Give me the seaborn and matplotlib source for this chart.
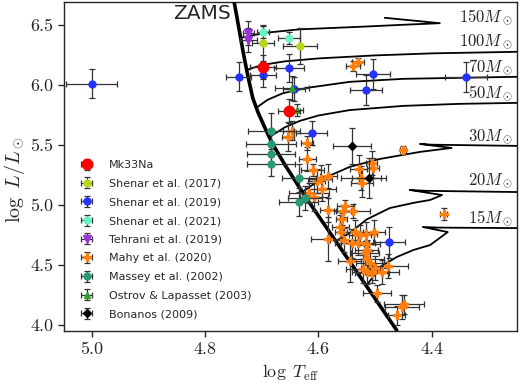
import matplotlib
matplotlib.use("Agg")
import matplotlib.pyplot as plt
import seaborn as sns

# ---------------- data ----------------
zams_T = [4.750, 4.744, 4.739, 4.732, 4.725, 4.716, 4.707, 4.696, 4.682, 4.659, 4.624, 4.462]
zams_L = [6.720, 6.567, 6.433, 6.250, 6.083, 5.892, 5.775, 5.658, 5.517, 5.333, 5.075, 3.958]

trk150_T = [4.738, 4.720, 4.690, 4.633, 4.527, 4.450, 4.386, 4.483]
trk150_L = [6.390, 6.410, 6.435, 6.462, 6.483, 6.500, 6.513, 6.558]
trk100_T = [4.726, 4.700, 4.660, 4.600, 4.500, 4.400, 4.250]
trk100_L = [6.125, 6.165, 6.195, 6.220, 6.245, 6.262, 6.275]
trk70_T = [4.710, 4.690, 4.663, 4.620, 4.545, 4.450, 4.250]
trk70_L = [5.808, 5.875, 5.930, 5.975, 6.025, 6.050, 6.067]
trk50_T = [4.686, 4.660, 4.633, 4.600, 4.545, 4.450, 4.350, 4.250]
trk50_L = [5.567, 5.645, 5.700, 5.745, 5.790, 5.825, 5.842, 5.850]
trk30_T = [4.629, 4.598, 4.545, 4.492, 4.421, 4.365, 4.421, 4.400, 4.250]
trk30_L = [5.108, 5.208, 5.317, 5.383, 5.442, 5.475, 5.508, 5.502, 5.492]
trk20_T = [4.565, 4.545, 4.515, 4.474, 4.430, 4.403, 4.382, 4.439, 4.410, 4.250]
trk20_L = [4.710, 4.767, 4.880, 4.975, 5.020, 5.042, 5.083, 5.125, 5.118, 5.108]
trk15_T = [4.515, 4.504, 4.492, 4.462, 4.433, 4.403, 4.372, 4.416, 4.390, 4.250]
trk15_L = [4.333, 4.400, 4.483, 4.567, 4.625, 4.667, 4.775, 4.817, 4.812, 4.808]

track_labels = ["150", "100", "70", "50", "30", "20", "15"]
track_label_L = [6.567, 6.358, 6.150, 5.933, 5.567, 5.200, 4.892]

mk33_T = [4.698, 4.652]
mk33_L = [6.150, 5.783]
mk33_Te = [0.023, 0.020]
mk33_Le = [0.10, 0.10]

sh17_T = [4.698, 4.633]
sh17_L = [6.350, 6.325]
sh17_Te = [0.020, 0.030]
sh17_Le = [0.15, 0.15]

sh19_T = [5.000, 4.741, 4.698, 4.652, 4.643, 4.612, 4.504, 4.516, 4.340, 4.476]
sh19_L = [6.010, 6.067, 6.083, 6.140, 5.967, 5.600, 6.092, 5.958, 6.067, 4.690]
sh19_Te = [0.045, 0.022, 0.023, 0.027, 0.020, 0.027, 0.030, 0.028, 0.037, 0.028]
sh19_Le = [0.12, 0.12, 0.10, 0.12, 0.10, 0.10, 0.125, 0.125, 0.125, 0.13]

sh21_T = [4.698, 4.652]
sh21_L = [6.440, 6.390]
sh21_Te = [0.010, 0.020]
sh21_Le = [0.05, 0.05]

teh_T = [4.724, 4.724]
teh_L = [6.430, 6.375]
teh_Te = [0.010, 0.015]
teh_Le = [0.10, 0.10]

mahy_T = [4.530, 4.539, 4.647, 4.654, 4.620, 4.620, 4.610, 4.603, 4.583, 4.596,
          4.594, 4.617, 4.608, 4.529, 4.525, 4.523, 4.506, 4.504, 4.451, 4.583,
          4.553, 4.557, 4.539, 4.559, 4.562, 4.560, 4.583, 4.555, 4.536, 4.527,
          4.516, 4.502, 4.541, 4.530, 4.516, 4.515, 4.518, 4.545, 4.515, 4.509,
          4.522, 4.515, 4.506, 4.500, 4.488, 4.477, 4.497, 4.453, 4.449, 4.462,
          4.379]
mahy_L = [6.192, 6.158, 5.617, 5.567, 5.517, 5.383, 5.292, 5.200, 5.242, 5.217,
          5.133, 5.100, 5.067, 5.300, 5.225, 5.183, 5.350, 5.308, 5.458, 4.958,
          4.992, 4.950, 4.950, 4.883, 4.817, 4.775, 4.717, 4.708, 4.775, 4.750,
          4.758, 4.775, 4.683, 4.683, 4.675, 4.625, 4.600, 4.533, 4.550, 4.517,
          4.467, 4.442, 4.433, 4.475, 4.442, 4.492, 4.267, 4.150, 4.175, 4.083,
          4.925]
mahy_Te = [0.010, 0.012, 0.015, 0.010, 0.010, 0.015, 0.020, 0.015, 0.015, 0.020,
           0.025, 0.035, 0.025, 0.015, 0.035, 0.020, 0.010, 0.010, 0.006, 0.015,
           0.015, 0.015, 0.030, 0.010, 0.015, 0.010, 0.030, 0.025, 0.020, 0.020,
           0.020, 0.020, 0.030, 0.030, 0.025, 0.020, 0.025, 0.020, 0.030, 0.025,
           0.030, 0.025, 0.030, 0.025, 0.030, 0.035, 0.025, 0.030, 0.035, 0.015,
           0.006]
mahy_Le = [0.03, 0.04, 0.08, 0.12, 0.06, 0.10, 0.05, 0.10, 0.10, 0.12,
           0.10, 0.08, 0.12, 0.12, 0.10, 0.12, 0.10, 0.08, 0.03, 0.10,
           0.05, 0.05, 0.06, 0.05, 0.10, 0.05, 0.18, 0.10, 0.10, 0.08,
           0.10, 0.10, 0.12, 0.10, 0.10, 0.08, 0.10, 0.17, 0.10, 0.10,
           0.12, 0.10, 0.08, 0.10, 0.10, 0.10, 0.07, 0.10, 0.08, 0.08,
           0.05]

mas_T = [4.684, 4.684, 4.684, 4.684, 4.635, 4.624, 4.635]
mas_L = [5.617, 5.508, 5.425, 5.342, 5.225, 5.058, 5.025]
mas_Te = [0.040, 0.044, 0.042, 0.042, 0.030, 0.030, 0.035]
mas_Le = [0.15, 0.10, 0.10, 0.10, 0.12, 0.10, 0.12]

ost_T = [4.647, 4.638]
ost_L = [5.975, 5.790]
ost_Te = [0.030, 0.010]
ost_Le = [0.10, 0.05]

bon_T = [4.541, 4.511]
bon_L = [5.492, 5.225]
bon_Te = [0.033, 0.030]
bon_Le = [0.15, 0.17]

# ---------------- plot ----------------
sns.set_style("ticks")
plt.rcParams["font.family"] = ["DejaVu Sans"]
plt.rcParams["mathtext.fontset"] = "cm"

fig = plt.figure(figsize=(5.2, 3.86), dpi=100)
ax = fig.add_axes([0.123, 0.142, 0.871, 0.853])

tracks = [(trk150_T, trk150_L), (trk100_T, trk100_L), (trk70_T, trk70_L),
          (trk50_T, trk50_L), (trk30_T, trk30_L), (trk20_T, trk20_L),
          (trk15_T, trk15_L)]
for tT, tL in tracks:
    sns.lineplot(x=tT, y=tL, sort=False, estimator=None, color="black",
                 lw=1.3, ax=ax, zorder=4)
sns.lineplot(x=zams_T, y=zams_L, sort=False, estimator=None, color="black",
             lw=2.6, ax=ax, zorder=4)

groups = [
    ("Mk33Na", mk33_T, mk33_L, mk33_Te, mk33_Le, "#ff0000", "o", 7.5),
    ("Shenar et al. (2017)", sh17_T, sh17_L, sh17_Te, sh17_Le, "#b8d51c", "o", 5),
    ("Shenar et al. (2019)", sh19_T, sh19_L, sh19_Te, sh19_Le, "#2433ff", "o", 5),
    ("Shenar et al. (2021)", sh21_T, sh21_L, sh21_Te, sh21_Le, "#66f5c4", "o", 5),
    ("Tehrani et al. (2019)", teh_T, teh_L, teh_Te, teh_Le, "#9a2fdc", "v", 5.5),
    ("Mahy et al. (2020)", mahy_T, mahy_L, mahy_Te, mahy_Le, "#ff7f0e", "P", 5.5),
    ("Massey et al. (2002)", mas_T, mas_L, mas_Te, mas_Le, "#2a9a74", "o", 5),
    ("Ostrov & Lapasset (2003)", ost_T, ost_L, ost_Te, ost_Le, "#2ca02c", "^", 5),
    ("Bonanos (2009)", bon_T, bon_L, bon_Te, bon_Le, "#000000", "D", 4),
]
order_z = [9, 6, 6, 6, 6, 5, 6, 7, 6]
handles = []
for (lab, T, L, Te, Le, col, mk, ms), z in zip(groups, order_z):
    h = ax.errorbar(T, L, xerr=Te, yerr=Le, fmt=mk, color=col, ms=ms,
                    mec=col, ecolor="#333333", elinewidth=0.9, capsize=2,
                    capthick=0.9, label=lab, zorder=z)
    handles.append(h)

for lab, yl in zip(track_labels, track_label_L):
    ax.text(4.257, yl, r"$%s M_\odot$" % lab, ha="right", va="center",
            fontsize=12, zorder=8)

ax.text(4.755, 6.55, "ZAMS", ha="right", va="baseline", fontsize=14.5, zorder=8)

ax.set_xlim(5.049, 4.25)
ax.set_ylim(3.95, 6.69)
ax.set_xticks([5.0, 4.8, 4.6, 4.4])
ax.set_yticks([4.0, 4.5, 5.0, 5.5, 6.0, 6.5])
ax.set_xticklabels(["5.0", "4.8", "4.6", "4.4"], fontfamily="cmr10", fontsize=13)
ax.set_yticklabels(["4.0", "4.5", "5.0", "5.5", "6.0", "6.5"], fontfamily="cmr10", fontsize=13)
ax.tick_params(direction="out", length=4, width=1)
for s in ax.spines.values():
    s.set_linewidth(1.0)
    s.set_visible(True)

ax.set_xlabel(r"$\log\ T_{\rm eff}$", fontsize=13, labelpad=4)
ax.set_ylabel(r"$\log\ L/L_\odot$", fontsize=14.5, labelpad=3)
ax.yaxis.set_label_coords(-0.082, 0.46)

leg = ax.legend(handles=handles, loc="lower left", bbox_to_anchor=(0.036, 0.036),
                frameon=False, fontsize=8, handlelength=1.2, handletextpad=1.35,
                labelspacing=0.78, borderaxespad=0.0, borderpad=0.0)

fig.savefig("out.png", dpi=100)
